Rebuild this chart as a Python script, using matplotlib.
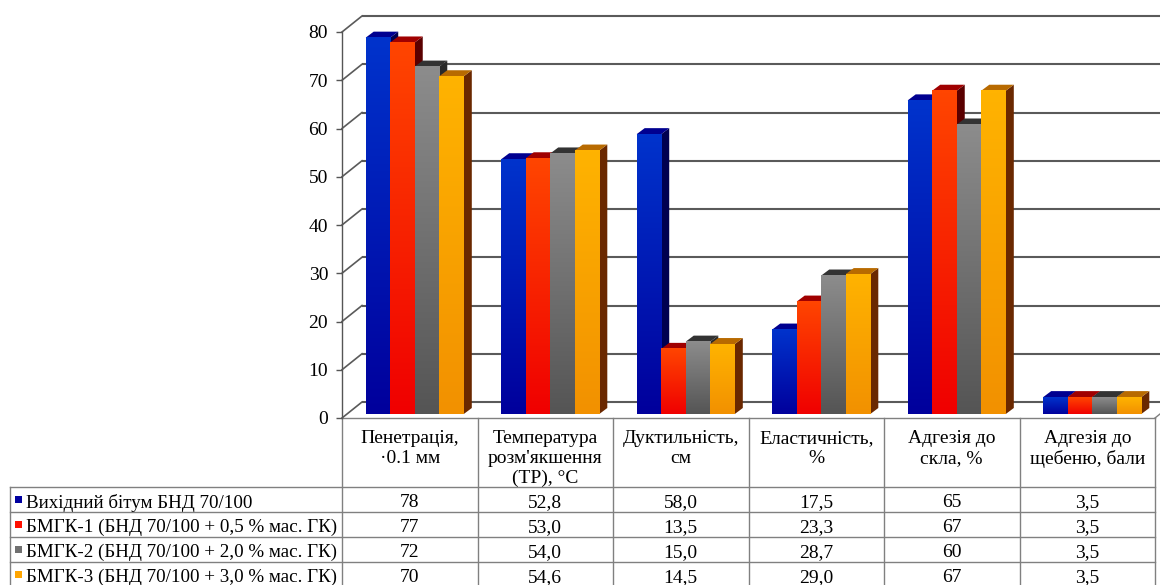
import numpy as np
import matplotlib
matplotlib.use("Agg")
import matplotlib.pyplot as plt
from matplotlib.patches import Polygon, Rectangle
from matplotlib.colors import to_rgb

plt.rcParams['font.family'] = ['Liberation Serif', 'DejaVu Serif']

# ---- data -------------------------------------------------------------
categories = [
    "Пенетрація,\n·0.1 мм",
    "Температура\nрозм'якшення\n(ТР), °С",
    "Дуктильність,\nсм",
    "Еластичність,\n%",
    "Адгезія до\nскла, %",
    "Адгезія до\nщебеню, бали",
]
series_names = [
    "Вихідний бітум БНД 70/100",
    "БМГК-1 (БНД 70/100 + 0,5 % мас. ГК)",
    "БМГК-2 (БНД 70/100 + 2,0 % мас. ГК)",
    "БМГК-3 (БНД 70/100 + 3,0 % мас. ГК)",
]
base_bitumen = [78, 52.8, 58.0, 17.5, 65, 3.5]
bmgk_1 = [77, 53.0, 13.5, 23.3, 67, 3.5]
bmgk_2 = [72, 54.0, 15.0, 28.7, 60, 3.5]
bmgk_3 = [70, 54.6, 14.5, 29.0, 67, 3.5]
decimals = [0, 1, 1, 1, 0, 1]
y_ticks = [0, 10, 20, 30, 40, 50, 60, 70, 80]

series = [base_bitumen, bmgk_1, bmgk_2, bmgk_3]

# ---- styling ------------------------------------------------------------
front_top = ['#0033CC', '#FF4500', '#8C8C8C', '#FFB300']
front_bot = ['#00009C', '#F00000', '#555555', '#F29100']
side_col = ['#000050', '#5A0000', '#2A2A2A', '#6A2800']
top_col = ['#000090', '#A00000', '#333333', '#B86A00']
legend_col = ['#0000A0', '#FF1000', '#707070', '#FFA500']

W, H = 1160, 585
X0, X1 = 342, 1155          # front plane horizontal extent (px)
Y0, Y80 = 418, 32           # pixel rows of value 0 and 80 on the front plane
n_cat = len(categories)

fig = plt.figure(figsize=(W / 100, H / 100), dpi=100)
fig.patch.set_facecolor('white')

ax = fig.add_axes([X0 / W, (H - Y0) / H, (X1 - X0) / W, (Y0 - Y80) / H])
ax.set_facecolor('none')

px_x = (X1 - X0) / n_cat     # px per category
px_y = (Y0 - Y80) / 80.0     # px per value unit


def dx(p):
    return p / px_x


def dy(p):
    return p / px_y


# back wall and floor
wall_dx, wall_dy = dx(20), dy(16)
grid_c = '#5a5a5a'
for v in y_ticks:
    ax.plot([wall_dx, n_cat + wall_dx + 1], [v + wall_dy, v + wall_dy],
            color=grid_c, lw=1.5, clip_on=False, zorder=1,
            solid_capstyle='butt')
    ax.plot([0, wall_dx], [v, v + wall_dy], color=grid_c, lw=1.2,
            clip_on=False, zorder=1)
ax.plot([n_cat, n_cat + wall_dx], [0, wall_dy], color='#7f7f7f', lw=1.0,
        clip_on=False, zorder=1)

# bars
bw = 0.181
f_dx, f_dy = dx(5), dy(4)
b_dx, b_dy = dx(8), dy(6)
ramp = np.linspace(0, 1, 64)[:, None]
z = 5
for i in range(n_cat):
    start = i + 0.5 - 2 * bw + f_dx
    for j, vals in enumerate(series):
        v = vals[i]
        xl, xr = start + j * bw, start + (j + 1) * bw
        b, t = f_dy, f_dy + v
        side = Polygon([(xr, b), (xr + b_dx, b + b_dy), (xr + b_dx, t + b_dy), (xr, t)],
                       closed=True, facecolor=side_col[j], edgecolor='none',
                       zorder=z, clip_on=False)
        top = Polygon([(xl, t), (xl + b_dx, t + b_dy), (xr + b_dx, t + b_dy), (xr, t)],
                      closed=True, facecolor=top_col[j], edgecolor='none',
                      zorder=z + 0.1, clip_on=False)
        ax.add_patch(side)
        ax.add_patch(top)
        c_top = np.array(to_rgb(front_top[j]))
        c_bot = np.array(to_rgb(front_bot[j]))
        grad = c_bot[None, None, :] * (1 - ramp[:, :, None]) + c_top[None, None, :] * ramp[:, :, None]
        ax.imshow(grad, extent=[xl, xr, b, t], origin='lower', aspect='auto',
                  interpolation='bilinear', zorder=z + 0.2, clip_on=False)
        z += 1

ax.set_xlim(0, n_cat)
ax.set_ylim(0, 80)
ax.set_xticks([])
ax.set_yticks(y_ticks)
ax.tick_params(axis='y', direction='out', length=4, width=1.0, color='#555555',
               labelsize=14, pad=6, labelcolor='black')
for s in ['top', 'right', 'bottom']:
    ax.spines[s].set_visible(False)
ax.spines['left'].set_color('#555555')
ax.spines['left'].set_linewidth(1.0)

# ---- data table ---------------------------------------------------------
ov = fig.add_axes([0, 0, 1, 1])
ov.set_xlim(0, W)
ov.set_ylim(H, 0)
ov.axis('off')
ov.set_zorder(-1)

line_c = '#808080'
hdr_top, hdr_bot = Y0, 487
row_h = 25
n_rows = len(series)
row_edges = [hdr_bot + k * row_h for k in range(n_rows + 1)]
tab_left = 10
tab_bottom = row_edges[-1]

ov.plot([X0, X1], [hdr_top, hdr_top], color=line_c, lw=1.0)
for yy in row_edges:
    ov.plot([tab_left, X1], [yy, yy], color=line_c, lw=1.0)
for k in range(n_cat + 1):
    xx = X0 + k * px_x
    ov.plot([xx, xx], [hdr_top, tab_bottom], color=line_c, lw=1.0)
ov.plot([tab_left, tab_left], [hdr_bot, tab_bottom], color=line_c, lw=1.0)

for i, lab in enumerate(categories):
    ov.text(X0 + (i + 0.5) * px_x, 430, lab, ha='center', va='top',
            fontsize=14, linespacing=1.22, color='black')

for r, (name, vals) in enumerate(zip(series_names, series)):
    yc = row_edges[r] + row_h / 2 + 1
    ov.add_patch(Rectangle((15, yc - 5), 7, 7, facecolor=legend_col[r], edgecolor='none'))
    ov.text(26, yc, name, ha='left', va='center_baseline', fontsize=13.7, color='black')
    for i, v in enumerate(vals):
        s = f"{v:.{decimals[i]}f}".replace('.', ',')
        ov.text(X0 + (i + 0.5) * px_x, yc, s, ha='center', va='center_baseline',
                fontsize=14, color='black')

fig.savefig('out.png', dpi=100)
